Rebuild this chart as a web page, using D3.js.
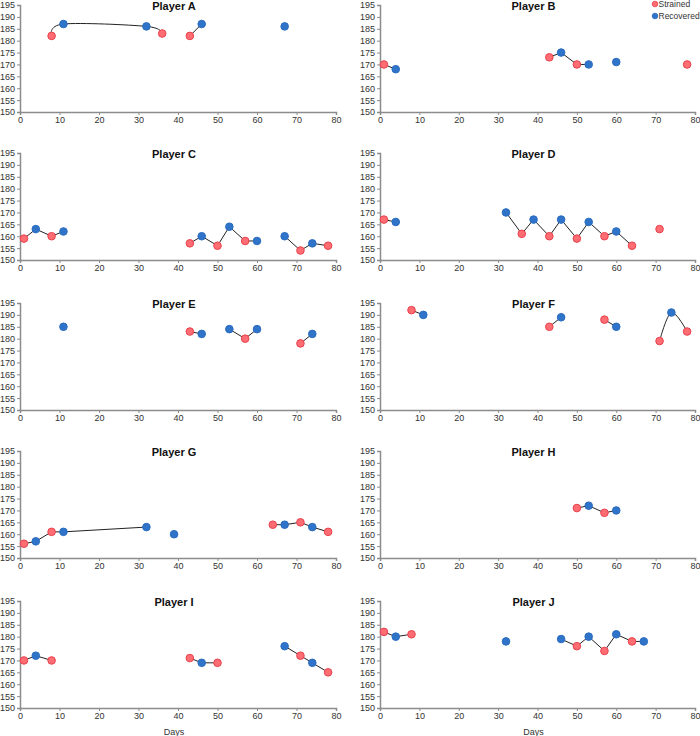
<!DOCTYPE html>
<html><head><meta charset="utf-8">
<script src="https://cdn.jsdelivr.net/npm/d3@7"></script>
<style>body{margin:0;background:#fff;}svg{display:block;font-family:"Liberation Sans",Arial,sans-serif;}</style>
</head><body>
<script>
// Shared measurement days and status per day
const days   = [1, 4, 8, 11, 32, 36, 39, 43, 46, 50, 53, 57, 60, 64, 67, 71, 74, 78];
const status = ["S","R","S","R","R","S","R","S","R","S","R","S","R","S","R","S","R","S"];
const players = ["Player A","Player B","Player C","Player D","Player E","Player F","Player G","Player H","Player I","Player J"];
const N = null;
const valuesA = [N,N,182,187,186,183,N,182,187,N,N,N,N,N,186,N,N,N];
const valuesB = [170,168,N,N,N,N,N,173,175,170,170,N,171,N,N,N,N,170];
const valuesC = [159,163,160,162,N,N,N,157,160,156,164,158,158,N,160,154,157,156];
const valuesD = [167,166,N,N,170,161,167,160,167,159,166,160,162,156,N,163,N,N];
const valuesE = [N,N,N,185,N,N,N,183,182,N,184,180,184,N,N,178,182,N];
const valuesF = [N,N,192,190,N,N,N,185,189,N,N,188,185,N,N,179,191,183];
const valuesG = [156,157,161,161,163,N,160,N,N,N,N,N,N,164,164,165,163,161];
const valuesH = [N,N,N,N,N,N,N,N,N,171,172,169,170,N,N,N,N,N];
const valuesI = [170,172,170,N,N,N,N,171,169,169,N,N,N,N,176,172,169,165];
const valuesJ = [182,180,181,N,178,N,N,N,179,176,180,174,181,178,178,N,N,N];
const seriesValues = [valuesA,valuesB,valuesC,valuesD,valuesE,valuesF,valuesG,valuesH,valuesI,valuesJ];
const smoothed = [true,false,false,false,false,true,false,false,false,false];
const xTicks = [0,10,20,30,40,50,60,70,80];
const yTicks = [150,155,160,165,170,175,180,185,190,195];
const legendLabels = ["Strained","Recovered"];

const W = 700, H = 736;
const svg = d3.select("body").append("svg").attr("width",W).attr("height",H);
const colX = [[20,336],[380,695]];
const rowTop = [5,153,303,451,601];
const plotH = 107;
const red = {fill:"#ff6d74", stroke:"#e8414b"};
const blue = {fill:"#2f74c9", stroke:"#2a6cc0"};

players.forEach((name,i)=>{
  const col = i%2, row = Math.floor(i/2);
  const x = d3.scaleLinear().domain([0,80]).range(colX[col]);
  const y = d3.scaleLinear().domain([150,195]).range([rowTop[row]+plotH,rowTop[row]]);
  const g = svg.append("g");
  const ya = g.append("g").attr("transform",`translate(${colX[col][0]},0)`)
    .call(d3.axisLeft(y).tickValues(yTicks).tickSize(3).tickPadding(2));
  const xa = g.append("g").attr("transform",`translate(0,${rowTop[row]+plotH})`)
    .call(d3.axisBottom(x).tickValues(xTicks).tickSize(3).tickPadding(2));
  [ya,xa].forEach(a=>{
    a.select(".domain").attr("stroke","#8c8c8c").attr("stroke-width",1.5);
    a.selectAll(".tick line").attr("stroke","#8c8c8c").attr("stroke-width",1);
    a.selectAll("text").attr("fill","#333").style("font-size","9px").style("font-family","'Liberation Sans',Arial,sans-serif");
  });
  const vals = seriesValues[i];
  const pts = days.map((d,k)=>({d, v:vals[k], s:status[k]}));
  const line = d3.line().defined(p=>p.v!==null).x(p=>x(p.d)).y(p=>y(p.v))
    .curve(smoothed[i] ? d3.curveCardinal.tension(0) : d3.curveLinear);
  g.append("path").attr("d",line(pts)).attr("fill","none").attr("stroke","#222").attr("stroke-width",1);
  g.selectAll("circle.pt").data(pts.filter(p=>p.v!==null)).join("circle")
    .attr("cx",p=>x(p.d)).attr("cy",p=>y(p.v)).attr("r",3.8)
    .attr("fill",p=>p.s==="S"?red.fill:blue.fill)
    .attr("stroke",p=>p.s==="S"?red.stroke:blue.stroke).attr("stroke-width",1);
  g.append("text").attr("x",(colX[col][0]+colX[col][1])/2-4).attr("y",rowTop[row]+5)
    .attr("text-anchor","middle").style("font-size","11px").style("font-weight","bold").attr("fill","#111").text(name);
  if(row===4){
    g.append("text").attr("x",(colX[col][0]+colX[col][1])/2-4).attr("y",735)
      .attr("text-anchor","middle").style("font-size","9px").attr("fill","#333").text("Days");
  }
});

// legend
const lg = svg.append("g");
legendLabels.forEach((lab,k)=>{
  const c = k===0?red:blue;
  const yy = 4 + k*12;
  lg.append("circle").attr("cx",655).attr("cy",yy).attr("r",2.8).attr("fill",c.fill).attr("stroke",c.stroke).attr("stroke-width",0.8);
  lg.append("text").attr("x",658.5).attr("y",yy+3.2).style("font-size","8.5px").attr("fill","#333").text(lab);
});
</script>
</body></html>
